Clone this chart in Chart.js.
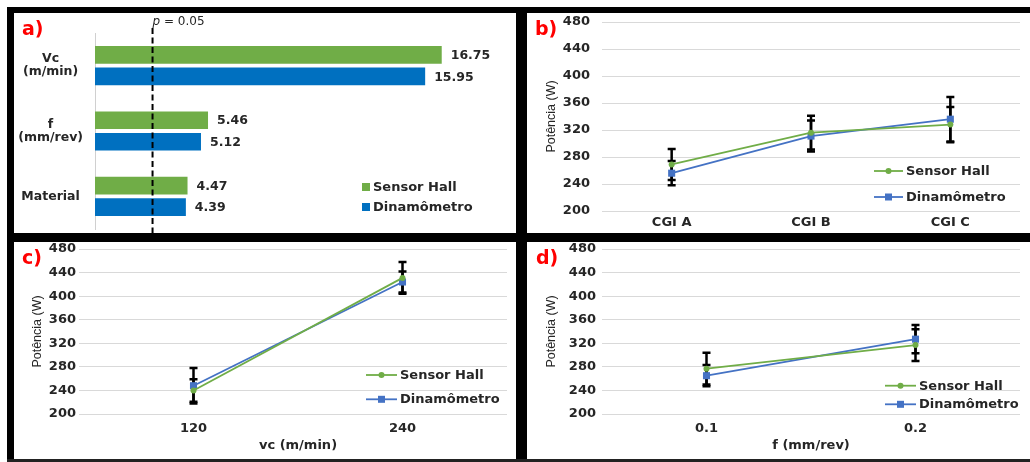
<!DOCTYPE html>
<html>
<head>
<meta charset="utf-8">
<script src="https://cdn.jsdelivr.net/npm/chart.js@4.4.1/dist/chart.umd.min.js"></script>
<style>
  html, body { margin: 0; padding: 0; background: #fff; }
  body { width: 1030px; height: 462px; position: relative; overflow: hidden; }
  canvas.panel { position: absolute; z-index: 1; }
  .frame { position: absolute; background: #000; z-index: 5; }
</style>
</head>
<body>
<canvas id="panelA" class="panel" width="502" height="229" style="left:14px;top:13px"></canvas>
<canvas id="panelB" class="panel" width="503" height="220" style="left:527px;top:13px"></canvas>
<canvas id="panelC" class="panel" width="502" height="217" style="left:14px;top:242px"></canvas>
<canvas id="panelD" class="panel" width="503" height="217" style="left:527px;top:242px"></canvas>

<div class="frame" style="left:7px;top:7px;width:1023px;height:6px"></div>
<div class="frame" style="left:7px;top:7px;width:7px;height:455px"></div>
<div class="frame" style="left:516px;top:7px;width:11px;height:455px"></div>
<div class="frame" style="left:7px;top:233px;width:1023px;height:9px"></div>
<div class="frame" style="left:7px;top:459px;width:1023px;height:3px;background:#222"></div>

<script>
// ---- data -------------------------------------------------------------
// a) standardized effects on power
const effectLabels = [['Vc', '(m/min)'], ['f', '(mm/rev)'], 'Material'];
const effectHall = [16.75, 5.46, 4.47];
const effectDina = [15.95, 5.12, 4.39];
const effectThreshold = 2.78;      // p = 0.05 reference

// b) power by material
const cgiLabels = ['CGI A', 'CGI B', 'CGI C'];
const cgiHall = [269, 316, 328];
const cgiHallErr = [23, 25, 26];
const cgiDina = [256, 311, 336];
const cgiDinaErr = [18, 23, 33];

// c) power by cutting speed
const vcLabels = ['120', '240'];
const vcHall = [240, 431];
const vcHallErr = [19, 27];
const vcDina = [248, 424];
const vcDinaErr = [30, 18];

// d) power by feed
const feedLabels = ['0.1', '0.2'];
const feedHall = [277, 317];
const feedHallErr = [27, 27];
const feedDina = [265, 327];
const feedDinaErr = [18, 24];

// power axis
const powerMin = 200;
const powerMax = 480;
const powerStep = 40;

// ---- styling ----------------------------------------------------------
const FONT = 'DejaVu Sans';
const TXT = '#262626';
const GREEN = '#70AD47';
const BLUE_BAR = '#0070C0';
const BLUE_LINE = '#4472C4';
const GRID = '#d9d9d9';

// ---- plugins ----------------------------------------------------------
const panelTag = {
  id: 'panelTag',
  afterDraw(chart, args, opts) {
    const ctx = chart.ctx;
    ctx.save();
    ctx.font = `bold 19px "${FONT}"`;
    ctx.fillStyle = '#FF0000';
    ctx.textAlign = 'left';
    ctx.textBaseline = 'alphabetic';
    ctx.fillText(opts.text, opts.x, opts.y);
    ctx.restore();
  }
};

const errorBars = {
  id: 'errorBars',
  beforeDatasetsDraw(chart) {
    const ctx = chart.ctx;
    const yScale = chart.scales.y;
    ctx.save();
    ctx.strokeStyle = '#000';
    ctx.lineWidth = 2.5;
    ctx.lineCap = 'butt';
    chart.data.datasets.forEach((ds, di) => {
      if (!ds.errorBars) return;
      const meta = chart.getDatasetMeta(di);
      meta.data.forEach((pt, i) => {
        const v = ds.data[i], e = ds.errorBars[i];
        const yTop = yScale.getPixelForValue(v + e);
        const yBot = yScale.getPixelForValue(v - e);
        const x = pt.x;
        ctx.beginPath();
        ctx.moveTo(x, yTop); ctx.lineTo(x, yBot);
        ctx.moveTo(x - 4, yTop); ctx.lineTo(x + 4, yTop);
        ctx.moveTo(x - 4, yBot); ctx.lineTo(x + 4, yBot);
        ctx.stroke();
      });
    });
    ctx.restore();
  }
};

const lineLegend = {
  id: 'lineLegend',
  afterDraw(chart, args, opts) {
    const ctx = chart.ctx;
    ctx.save();
    ctx.font = `bold 13px "${FONT}"`;
    ctx.textAlign = 'left';
    ctx.textBaseline = 'middle';
    chart.data.datasets.forEach((ds, i) => {
      const y = opts.y + i * opts.gap;
      const x0 = opts.x, x1 = opts.x + opts.len, xm = (x0 + x1) / 2;
      ctx.strokeStyle = ds.borderColor;
      ctx.lineWidth = 1.8;
      ctx.beginPath(); ctx.moveTo(x0, y); ctx.lineTo(x1, y); ctx.stroke();
      ctx.fillStyle = ds.backgroundColor;
      if (ds.pointStyle === 'rect') {
        ctx.fillRect(xm - 3.5, y - 3.5, 7, 7);
      } else {
        ctx.beginPath(); ctx.arc(xm, y, 3, 0, Math.PI * 2); ctx.fill();
      }
      ctx.fillStyle = TXT;
      ctx.fillText(ds.label, x1 + 3, y + 0.5);
    });
    ctx.restore();
  }
};

const barLegend = {
  id: 'barLegend',
  afterDraw(chart, args, opts) {
    const ctx = chart.ctx;
    ctx.save();
    ctx.font = `bold 13px "${FONT}"`;
    ctx.textAlign = 'left';
    ctx.textBaseline = 'middle';
    chart.data.datasets.forEach((ds, i) => {
      const y = opts.y + i * opts.gap;
      ctx.fillStyle = ds.backgroundColor;
      ctx.fillRect(opts.x, y - 4, 8, 8);
      ctx.fillStyle = TXT;
      ctx.fillText(ds.label, opts.x + 11, y + 0.5);
    });
    ctx.restore();
  }
};

const barValues = {
  id: 'barValues',
  afterDatasetsDraw(chart) {
    const ctx = chart.ctx;
    ctx.save();
    ctx.font = `bold 12.5px "${FONT}"`;
    ctx.fillStyle = TXT;
    ctx.textAlign = 'left';
    ctx.textBaseline = 'middle';
    chart.data.datasets.forEach((ds, di) => {
      chart.getDatasetMeta(di).data.forEach((bar, i) => {
        ctx.fillText(ds.data[i].toFixed(2), bar.x + 9, bar.y + 1);
      });
    });
    ctx.restore();
  }
};

const thresholdLine = {
  id: 'thresholdLine',
  afterDatasetsDraw(chart, args, opts) {
    const ctx = chart.ctx;
    const x = chart.scales.x.getPixelForValue(opts.value);
    ctx.save();
    ctx.strokeStyle = '#000';
    ctx.lineWidth = 2;
    ctx.setLineDash([6, 3.5]);
    ctx.beginPath();
    ctx.moveTo(x, opts.top);
    ctx.lineTo(x, chart.height);
    ctx.stroke();
    ctx.setLineDash([]);
    ctx.fillStyle = TXT;
    ctx.textBaseline = 'middle';
    ctx.textAlign = 'left';
    ctx.font = `italic 12px "${FONT}"`;
    ctx.fillText('p', x, opts.labelY);
    const w = ctx.measureText('p').width;
    ctx.font = `12px "${FONT}"`;
    ctx.fillText(' = 0.05', x + w, opts.labelY);
    ctx.restore();
  }
};

// ---- a) horizontal bars ---------------------------------------------
new Chart(document.getElementById('panelA'), {
  type: 'bar',
  data: {
    labels: effectLabels,
    datasets: [
      { label: 'Sensor Hall', data: effectHall, backgroundColor: GREEN,
        categoryPercentage: 0.66, barPercentage: 0.82 },
      { label: 'Dinamômetro', data: effectDina, backgroundColor: BLUE_BAR,
        categoryPercentage: 0.66, barPercentage: 0.82 }
    ]
  },
  options: {
    indexAxis: 'y',
    responsive: false,
    animation: false,
    events: [],
    layout: { padding: { top: 20, right: 7, bottom: 8, left: 0 } },
    scales: {
      x: { display: false, min: 0, max: 20 },
      y: {
        grid: { display: false, drawTicks: true, tickLength: 12 },
        border: { display: true, color: '#d0d0d0', width: 1 },
        ticks: {
          crossAlign: 'center', padding: 0, color: TXT,
          font: { family: FONT, size: 12.5, weight: 'bold', lineHeight: 1.04 }
        },
        afterFit: s => { s.width = 81; }
      }
    },
    plugins: {
      legend: { display: false },
      tooltip: { enabled: false },
      panelTag: { text: 'a)', x: 8, y: 21.5 },
      barLegend: { x: 348, y: 174, gap: 20 },
      thresholdLine: { value: effectThreshold, top: 15, labelY: 8.5 }
    }
  },
  plugins: [barValues, thresholdLine, barLegend, panelTag]
});

// ---- b), c), d) power lines with error bars ---------------------------
function powerChart(id, labels, hall, hallErr, dina, dinaErr, cfg) {
  return new Chart(document.getElementById(id), {
    type: 'line',
    data: {
      labels: labels,
      datasets: [
        { label: 'Sensor Hall', data: hall, errorBars: hallErr,
          borderColor: GREEN, backgroundColor: GREEN, borderWidth: 1.8,
          pointStyle: 'circle', pointRadius: 3, pointBorderWidth: 0 },
        { label: 'Dinamômetro', data: dina, errorBars: dinaErr,
          borderColor: BLUE_LINE, backgroundColor: BLUE_LINE, borderWidth: 1.8,
          pointStyle: 'rect', pointRadius: 5, pointBorderWidth: 0 }
      ]
    },
    options: {
      responsive: false,
      animation: false,
      events: [],
      layout: { padding: { top: cfg.padTop, right: cfg.padRight, bottom: 0, left: 0 } },
      scales: {
        x: {
          offset: true,
          grid: { display: false, drawTicks: false },
          border: { display: false },
          ticks: { color: TXT, padding: cfg.xTickPad,
                   font: { family: FONT, size: 13, weight: 'bold' } },
          title: cfg.xTitle
            ? { display: true, text: cfg.xTitle, color: TXT,
                font: { family: FONT, size: 13, weight: 'bold' },
                padding: { top: 0, bottom: cfg.xTitlePad } }
            : { display: false },
          afterFit: s => { s.height = cfg.xHeight; }
        },
        y: {
          min: powerMin,
          max: powerMax,
          grid: { color: GRID, lineWidth: 1, drawTicks: true,
                  tickLength: cfg.tickLen, tickColor: cfg.tickColor },
          border: { display: false },
          ticks: { stepSize: powerStep, color: TXT, padding: cfg.yTickPad,
                   font: { family: FONT, size: 13, weight: 'bold', lineHeight: 0.5 } },
          title: { display: true, text: 'Potência (W)', color: TXT,
                   font: { family: 'Liberation Sans', size: 12.5 },
                   padding: { top: cfg.yTitlePad, bottom: 0 } },
          afterFit: s => { s.width = 75; }
        }
      },
      plugins: {
        legend: { display: false },
        tooltip: { enabled: false },
        panelTag: cfg.tag,
        lineLegend: cfg.legend
      }
    },
    plugins: [errorBars, lineLegend, panelTag]
  });
}

powerChart('panelB', cgiLabels, cgiHall, cgiHallErr, cgiDina, cgiDinaErr, {
  padTop: 9, padRight: 10, xTickPad: 4.2, xHeight: 22,
  tickLen: 12, tickColor: 'rgba(0,0,0,0)', yTickPad: 0, yTitlePad: 17.5,
  tag: { text: 'b)', x: 8, y: 22 },
  legend: { x: 347, y: 158, gap: 26, len: 29 }
});

powerChart('panelC', vcLabels, vcHall, vcHallErr, vcDina, vcDinaErr, {
  padTop: 7, padRight: 9, xTickPad: 7.2, xHeight: 45,
  xTitle: 'vc (m/min)', xTitlePad: 5.2,
  tickLen: 10, tickColor: GRID, yTickPad: 3, yTitlePad: 16.5,
  tag: { text: 'c)', x: 8, y: 21.5 },
  legend: { x: 352, y: 133, gap: 24.3, len: 31 }
});

powerChart('panelD', feedLabels, feedHall, feedHallErr, feedDina, feedDinaErr, {
  padTop: 7, padRight: 10, xTickPad: 7.2, xHeight: 45,
  xTitle: 'f (mm/rev)', xTitlePad: 5.2,
  tickLen: 6, tickColor: 'rgba(0,0,0,0)', yTickPad: 0, yTitlePad: 17.5,
  tag: { text: 'd)', x: 9, y: 21.5 },
  legend: { x: 358, y: 143.7, gap: 18.6, len: 31 }
});
</script>
</body>
</html>
